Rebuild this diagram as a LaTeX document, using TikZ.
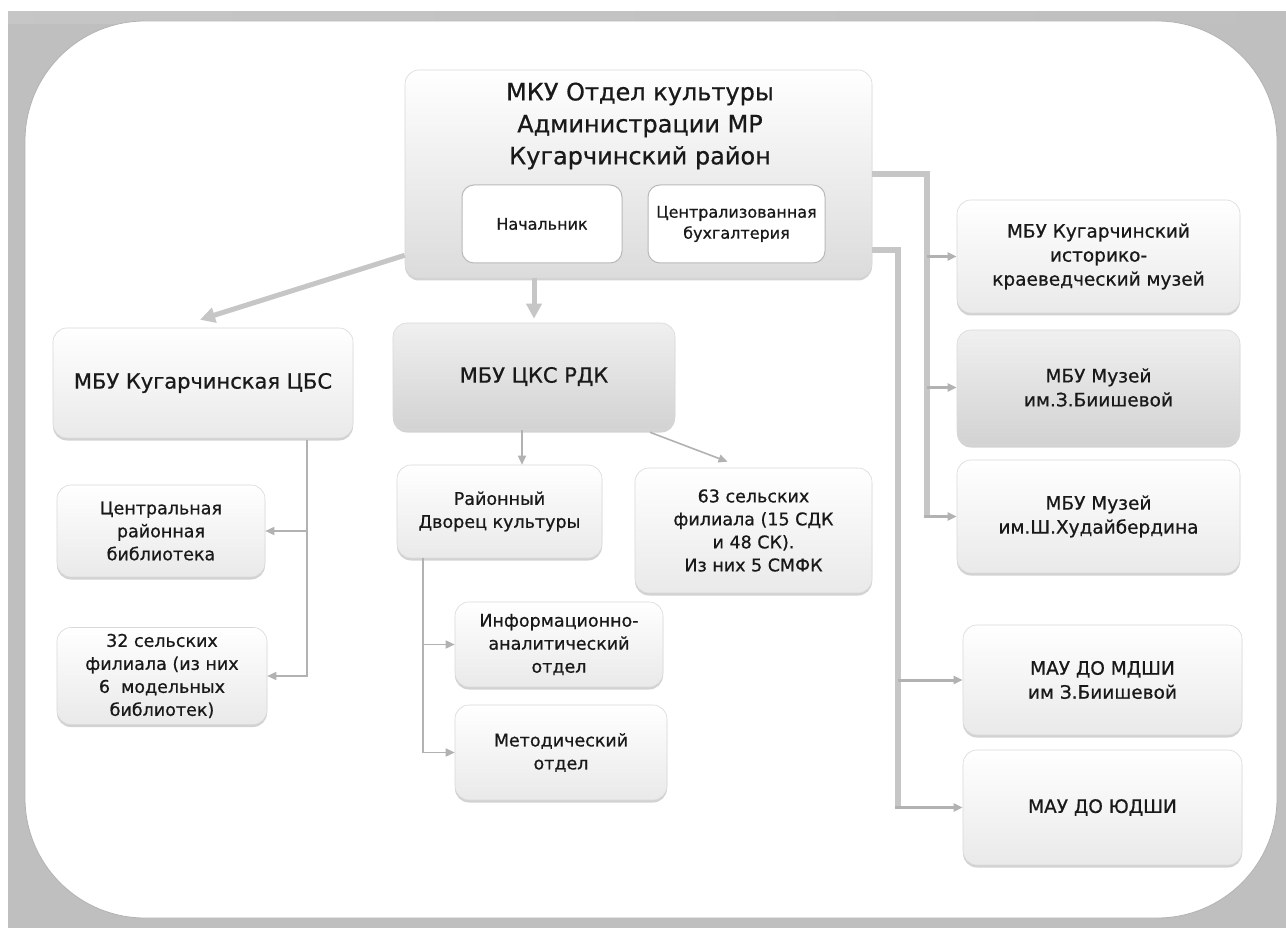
\documentclass[tikz,border=0pt]{standalone}
\usepackage{fontspec}
\setmainfont{DejaVu Sans}[FakeBold=0.7]
\usetikzlibrary{arrows.meta,shadows,calc}

\tikzset{
  box/.style={draw=gray!30, line width=0.6pt, rounded corners=14pt, top color=white, bottom color=gray!17,
    text=black!90, align=center, inner sep=0pt, font=\fontsize{17.5}{23}\selectfont,
    drop shadow={shadow xshift=0pt, shadow yshift=-2.5pt, opacity=0.35}},
  boxdark/.style={box, top color=gray!12, bottom color=gray!35},
  boxright/.style={box, font=\fontsize{18.5}{24}\selectfont},
  boxinner/.style={draw=gray!55, line width=1pt, rounded corners=12pt, fill=white, align=center,
    inner sep=0pt, font=\fontsize{16}{21}\selectfont, text=black!90},
  linkthick/.style={draw=gray!45, line width=5pt},
  linkthin/.style={draw=gray!60, line width=1.6pt},
  bigtip/.style={-{Triangle[length=15pt,width=15pt]}},
  tip/.style={-{Triangle[length=9pt,width=8pt]}}
}

\begin{document}
\begin{tikzpicture}[x=1pt,y=1pt,yscale=-1,line join=miter]
        \useasboundingbox (0,0) rectangle (1286,928);
        % Background
        \fill[gray!50] (8,12) rectangle (1286,928);
        \shade[left color=gray!45, middle color=gray!10, right color=gray!50] (8,12) rectangle (1286,24);
        \fill[white,rounded corners=120pt] (25,21) rectangle (1277,918);
        \draw[gray!60, line width=0.8pt, rounded corners=120pt] (25,21) rectangle (1277,918);

        % Top box
        \node[box, bottom color=gray!28, minimum width=467pt, minimum height=208pt] (mku) at (638.5,174) {};
        \node[font=\fontsize{24}{32}\selectfont, align=center, text=black!90] (mkutitle) at (640,126) {МКУ Отдел культуры\\Администрации МР\\Кугарчинский район};
        \node[boxinner, minimum width=160pt, minimum height=78pt] (nach) at (542,224) {Начальник};
        \node[boxinner, minimum width=177pt, minimum height=78pt] (buh) at (736.5,224) {Централизованная\\бухгалтерия};

        % Second row
        \node[box, font=\fontsize{21}{25}\selectfont, minimum width=300pt, minimum height=110pt] (cbs) at (203,383) {МБУ Кугарчинская ЦБС};
        \node[boxdark, font=\fontsize{21}{25}\selectfont, minimum width=282pt, minimum height=107pt] (cks) at (534,376.5) {МБУ ЦКС РДК};

        % Left branch
        \node[box, minimum width=208pt, minimum height=92pt] (crb) at (161,531) {Центральная\\районная\\библиотека};
        \node[box, minimum width=210pt, minimum height=97pt] (sf32) at (162,676) {32 сельских\\филиала (из них\\6\ \ модельных\\библиотек)};

        % Middle branch
        \node[box, minimum width=205pt, minimum height=93pt] (rdk) at (499.5,511.5) {Районный\\Дворец культуры};
        \node[box, minimum width=237pt, minimum height=125pt] (sf63) at (753.5,530.5) {63 сельских\\филиала (15 СДК\\и 48 СК).\\Из них 5 СМФК};
        \node[box, minimum width=208pt, minimum height=85pt] (iao) at (559,644.5) {Информационно-\\аналитический\\отдел};
        \node[box, minimum width=212pt, minimum height=95pt] (met) at (561,752.5) {Методический\\отдел};

        % Right column
        \node[boxright, minimum width=283pt, minimum height=113pt] (mus1) at (1098.5,256.5) {МБУ Кугарчинский\\историко-\\краеведческий музей};
        \node[boxright, top color=gray!12, bottom color=gray!35, minimum width=283pt, minimum height=115pt] (mus2) at (1098.5,387.5) {МБУ Музей\\им.З.Биишевой};
        \node[boxright, minimum width=283pt, minimum height=113pt] (mus3) at (1098.5,516.5) {МБУ Музей\\им.Ш.Худайбердина};
        \node[boxright, minimum width=279pt, minimum height=110pt] (mdshi) at (1102.5,680) {МАУ ДО МДШИ\\им З.Биишевой};
        \node[boxright, minimum width=279pt, minimum height=115pt] (yudshi) at (1102.5,807.5) {МАУ ДО ЮДШИ};

        % Connectors from the top box
        \draw[linkthick, bigtip] ($(mku.south west)+(0,-23)$) -- ($(cbs.north)+(-3,-8)$);
        \draw[linkthick, bigtip, shorten >=4pt] (mku.south -| cks.north) -- (cks.north);

        \coordinate (br1) at (927,174);
        \coordinate (br2) at (898,250);
        \draw[linkthick, line width=6pt] (mku.east) -- (br1) -- (br1 |- mus3.west);
        \draw[linkthick, line width=6pt] (mku.east |- br2) -- (br2) -- (br2 |- yudshi.west);
        \draw[linkthin, line width=3pt, tip] (br1 |- mus1.west) -- (mus1.west);
        \draw[linkthin, line width=3pt, tip] (br1 |- mus2.west) -- (mus2.west);
        \draw[linkthin, line width=3pt, tip] ([xshift=-3pt]br1 |- mus3.west) -- (mus3.west);
        \draw[linkthin, line width=3pt, tip] (br2 |- mdshi.west) -- (mdshi.west);
        \draw[linkthin, line width=3pt, tip] ([xshift=-3pt]br2 |- yudshi.west) -- (yudshi.west);

        % Left branch connectors
        \coordinate (cbsdn) at ($(cbs.south)+(104,2)$);
        \draw[linkthin, tip] (cbsdn) -- (cbsdn |- sf32.east) -- (sf32.east);
        \draw[linkthin, tip] (cbsdn |- crb.east) -- (crb.east);

        % Middle branch connectors
        \coordinate (cksdn) at ($(cks.south)+(-12,0)$);
        \draw[linkthin, tip] (cksdn) -- (cksdn |- rdk.north);
        \draw[linkthin, tip] ($(cks.south)+(116,2)$) -- ($(sf63.north)+(-26,-6)$);
        \coordinate (rdkdn) at ($(rdk.south west)+(26,0)$);
        \draw[linkthin, tip] (rdkdn) -- (rdkdn |- met.west) -- (met.west);
        \draw[linkthin, tip] (rdkdn |- iao.west) -- (iao.west);
\end{tikzpicture}
\end{document}
